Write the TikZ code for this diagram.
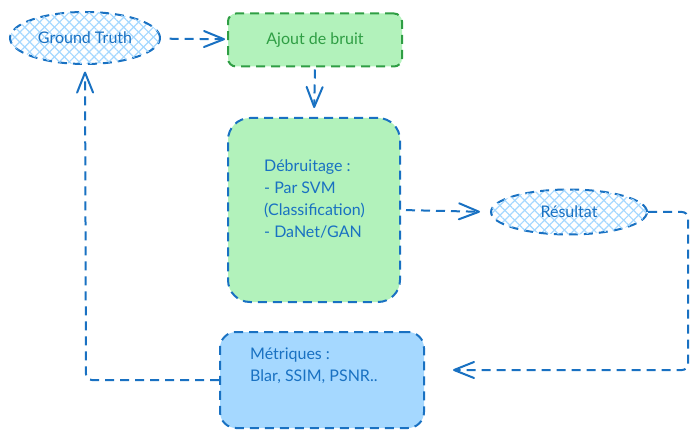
\documentclass[tikz,border=0pt]{standalone}
\usepackage{fontspec}
\setmainfont{Lato}
\usepackage{tikz}
\usetikzlibrary{shapes,arrows.meta,positioning,patterns.meta}
\definecolor{skyline}{HTML}{1971C2}
\definecolor{leafline}{HTML}{2F9E44}
\definecolor{leaffill}{HTML}{B2F2BB}
\definecolor{skyfill}{HTML}{A5D8FF}
\tikzset{
      dashstroke/.style = {line width=2pt, dash pattern=on 9pt off 6pt},
      hatched/.style = {ellipse, dashstroke, draw=skyline, text=skyline, inner sep=0pt,
            pattern={Lines[angle=45,distance=7pt,line width=1.2pt]}, pattern color=skyfill,
            postaction={pattern={Lines[angle=-45,distance=7pt,line width=1.2pt]}, pattern color=skyfill}},
      leafbox/.style = {rectangle, dashstroke, fill=leaffill},
      skybox/.style = {rectangle, dashstroke, draw=skyline, fill=skyfill},
      boxtext/.style = {align=left, anchor=west, inner sep=0pt, text=skyline},
      link/.style = {skyline, dashstroke, rounded corners=6pt,
            -{Straight Barb[length=20pt,width=16pt,round]}},
    }

\begin{document}
\begin{tikzpicture}[x=1pt, y=-1pt, font=\fontsize{16}{22}\selectfont]
    \useasboundingbox (0,0) rectangle (698,438);
    \node [hatched, minimum width=150pt, minimum height=52pt] (gt) at (85,38) {Ground Truth};
    \node [leafbox, draw=leafline, text=leafline, rounded corners=8pt,
           minimum width=174pt, minimum height=53pt] (bruit) at (315,40) {Ajout de bruit};
    \node [leafbox, draw=skyline, rounded corners=22pt,
           minimum width=172pt, minimum height=184pt] (debruit) at (314,210) {};
    \node [boxtext] (debruittxt) at (264,199)
          {Débruitage :\\- Par SVM\\(Classification)\\- DaNet/GAN};
    \node [hatched, minimum width=156pt, minimum height=45pt] (res) at (569,212) {Résultat};
    \node [skybox, rounded corners=16pt,
           minimum width=204pt, minimum height=96pt] (metr) at (322,380) {};
    \node [boxtext] (metrtxt) at (250,366) {Métriques :\\Blar, SSIM, PSNR..};

    \coordinate (corner1) at (688,370);
    \coordinate (corner2) at (86,380);

    \draw [link, shorten <=9pt, shorten >=2pt] (gt) -- (bruit);
    \draw [link, shorten <=2pt, shorten >=9pt] (bruit.south) -- (debruit.north);
    \draw [link, shorten <=5pt, shorten >=10pt] (debruit.east) -- (res.west);
    \draw [link, shorten >=28pt] (res.east) -| (corner1) -- (metr.east |- corner1);
    \draw [link, shorten >=7pt] (metr.west) -- (corner2) -- (gt.south);
\end{tikzpicture}
\end{document}
